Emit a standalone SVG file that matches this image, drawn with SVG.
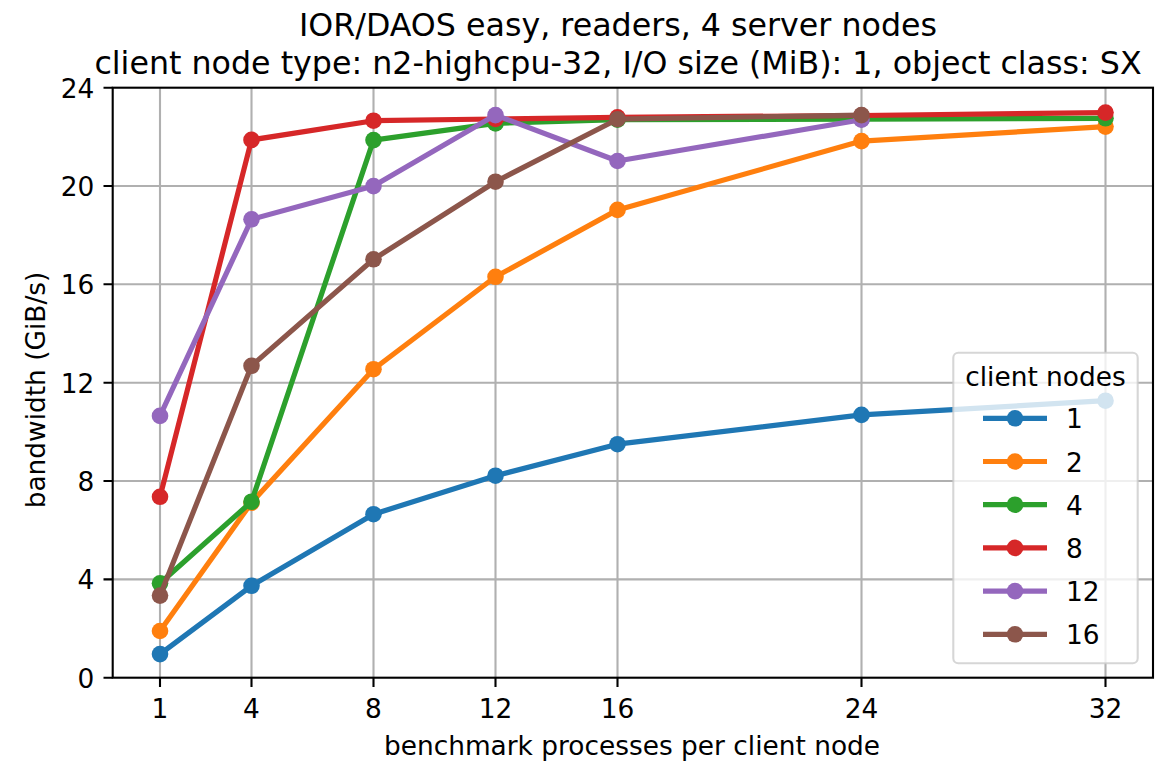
<svg xmlns="http://www.w3.org/2000/svg" width="1170" height="762" viewBox="0 0 1170 762">
<style>
text{font-family:"DejaVu Sans","Liberation Sans",sans-serif;fill:#000}
.t{font-size:31.7px;text-anchor:middle}
.lab{font-size:26.4px}
.xt{font-size:26.4px;text-anchor:middle}
.yt{font-size:26.4px;text-anchor:end}
.grid{stroke:#b0b0b0;stroke-width:2.1;fill:none}
.spine{stroke:#000;stroke-width:2.1;fill:none;stroke-linecap:square}
.tick{stroke:#000;stroke-width:2.1}
.ln{fill:none;stroke-width:5.2;stroke-linejoin:round;stroke-linecap:round}
.c1{stroke:#1f77b4}.c2{stroke:#ff7f0e}.c3{stroke:#2ca02c}
.c4{stroke:#d62728}.c5{stroke:#9467bd}.c6{stroke:#8c564b}
.m1{fill:#1f77b4}.m2{fill:#ff7f0e}.m3{fill:#2ca02c}.m4{fill:#d62728}.m5{fill:#9467bd}.m6{fill:#8c564b}
</style>
<rect width="1170" height="762" fill="#fff"/>
<g id="title">
<text class="t" x="618" y="36">IOR/DAOS easy, readers, 4 server nodes</text>
<text class="t" x="618" y="74">client node type: n2-highcpu-32, I/O size (MiB): 1, object class: SX</text>
</g>
<g id="grid">
<path class="grid" d="M160 87.7V677.7M251.5 87.7V677.7M373.5 87.7V677.7M495.5 87.7V677.7M617.5 87.7V677.7M861.5 87.7V677.7M1105.5 87.7V677.7"/>
<path class="grid" d="M112.7 186H1153M112.7 284.3H1153M112.7 382.7H1153M112.7 481H1153M112.7 579.4H1153"/>
</g>
<g id="series">
<g id="s1">
<polyline class="ln c1" points="160,654.1 251.5,585.8 373.5,514.2 495.5,475.7 617.5,444.2 861.5,414.9 1105.5,400.7"/>
<g class="m1"><circle cx="160" cy="654.1" r="8.3"/><circle cx="251.5" cy="585.8" r="8.3"/><circle cx="373.5" cy="514.2" r="8.3"/><circle cx="495.5" cy="475.7" r="8.3"/><circle cx="617.5" cy="444.2" r="8.3"/><circle cx="861.5" cy="414.9" r="8.3"/><circle cx="1105.5" cy="400.7" r="8.3"/></g>
</g>
<g id="s2">
<polyline class="ln c2" points="160,631 251.5,502.7 373.5,369.2 495.5,276.8 617.5,209.9 861.5,141.1 1105.5,126.6"/>
<g class="m2"><circle cx="160" cy="631" r="8.3"/><circle cx="251.5" cy="502.7" r="8.3"/><circle cx="373.5" cy="369.2" r="8.3"/><circle cx="495.5" cy="276.8" r="8.3"/><circle cx="617.5" cy="209.9" r="8.3"/><circle cx="861.5" cy="141.1" r="8.3"/><circle cx="1105.5" cy="126.6" r="8.3"/></g>
</g>
<g id="s4">
<polyline class="ln c3" points="160,583.3 251.5,501.7 373.5,140.1 495.5,123.4 617.5,119.7 861.5,119.2 1105.5,118.3"/>
<g class="m3"><circle cx="160" cy="583.3" r="8.3"/><circle cx="251.5" cy="501.7" r="8.3"/><circle cx="373.5" cy="140.1" r="8.3"/><circle cx="495.5" cy="123.4" r="8.3"/><circle cx="617.5" cy="119.7" r="8.3"/><circle cx="861.5" cy="119.2" r="8.3"/><circle cx="1105.5" cy="118.3" r="8.3"/></g>
</g>
<g id="s8">
<polyline class="ln c4" points="160,496.8 251.5,139.9 373.5,120.7 495.5,119 617.5,117.3 861.5,115.5 1105.5,112.6"/>
<g class="m4"><circle cx="160" cy="496.8" r="8.3"/><circle cx="251.5" cy="139.9" r="8.3"/><circle cx="373.5" cy="120.7" r="8.3"/><circle cx="495.5" cy="119" r="8.3"/><circle cx="617.5" cy="117.3" r="8.3"/><circle cx="861.5" cy="115.5" r="8.3"/><circle cx="1105.5" cy="112.6" r="8.3"/></g>
</g>
<g id="s12">
<polyline class="ln c5" points="160,415.9 251.5,219.3 373.5,186.1 495.5,115.1 617.5,161 861.5,119.7"/>
<g class="m5"><circle cx="160" cy="415.9" r="8.3"/><circle cx="251.5" cy="219.3" r="8.3"/><circle cx="373.5" cy="186.1" r="8.3"/><circle cx="495.5" cy="115.1" r="8.3"/><circle cx="617.5" cy="161" r="8.3"/><circle cx="861.5" cy="119.7" r="8.3"/></g>
</g>
<g id="s16">
<polyline class="ln c6" points="160,595.6 251.5,365.8 373.5,259.3 495.5,181.7 617.5,119.2 861.5,115.1"/>
<g class="m6"><circle cx="160" cy="595.6" r="8.3"/><circle cx="251.5" cy="365.8" r="8.3"/><circle cx="373.5" cy="259.3" r="8.3"/><circle cx="495.5" cy="181.7" r="8.3"/><circle cx="617.5" cy="119.2" r="8.3"/><circle cx="861.5" cy="115.1" r="8.3"/></g>
</g>
</g>
<g id="axes">
<rect class="spine" x="112.7" y="87.7" width="1040.3" height="590"/>
<path class="tick" d="M160 677.7v9.2M251.5 677.7v9.2M373.5 677.7v9.2M495.5 677.7v9.2M617.5 677.7v9.2M861.5 677.7v9.2M1105.5 677.7v9.2"/>
<path class="tick" d="M112.7 87.7h-9.2M112.7 186h-9.2M112.7 284.3h-9.2M112.7 382.7h-9.2M112.7 481h-9.2M112.7 579.4h-9.2M112.7 677.7h-9.2"/>
<g id="xticks">
<text class="xt" x="160" y="718">1</text>
<text class="xt" x="251.5" y="718">4</text>
<text class="xt" x="373.5" y="718">8</text>
<text class="xt" x="495.5" y="718">12</text>
<text class="xt" x="617.5" y="718">16</text>
<text class="xt" x="861.5" y="718">24</text>
<text class="xt" x="1105.5" y="718">32</text>
</g>
<g id="yticks">
<text class="yt" x="94.3" y="687.7">0</text>
<text class="yt" x="94.3" y="589.4">4</text>
<text class="yt" x="94.3" y="491">8</text>
<text class="yt" x="94.3" y="392.7">12</text>
<text class="yt" x="94.3" y="294.3">16</text>
<text class="yt" x="94.3" y="196">20</text>
<text class="yt" x="94.3" y="97.7">24</text>
</g>
<text class="lab" x="632" y="755" text-anchor="middle">benchmark processes per client node</text>
<text class="lab" transform="translate(45 390) rotate(-90)" text-anchor="middle">bandwidth (GiB/s)</text>
</g>
<g id="legend">
<rect x="953.3" y="352.7" width="184.4" height="310.6" rx="5" fill="#fff" fill-opacity="0.8" stroke="#ccc" stroke-opacity="0.8" stroke-width="2.1"/>
<text class="lab" x="1045.5" y="386" text-anchor="middle">client nodes</text>
<g id="leg1"><path class="ln c1" d="M983 418.3H1047" style="stroke-linecap:butt"/><circle class="m1" cx="1015" cy="418.3" r="8.3"/><text class="lab" x="1066" y="428.3">1</text></g>
<g id="leg2"><path class="ln c2" d="M983 461.5H1047" style="stroke-linecap:butt"/><circle class="m2" cx="1015" cy="461.5" r="8.3"/><text class="lab" x="1066" y="471.5">2</text></g>
<g id="leg4"><path class="ln c3" d="M983 504.7H1047" style="stroke-linecap:butt"/><circle class="m3" cx="1015" cy="504.7" r="8.3"/><text class="lab" x="1066" y="514.7">4</text></g>
<g id="leg8"><path class="ln c4" d="M983 547.9H1047" style="stroke-linecap:butt"/><circle class="m4" cx="1015" cy="547.9" r="8.3"/><text class="lab" x="1066" y="557.9">8</text></g>
<g id="leg12"><path class="ln c5" d="M983 591.1H1047" style="stroke-linecap:butt"/><circle class="m5" cx="1015" cy="591.1" r="8.3"/><text class="lab" x="1066" y="601.1">12</text></g>
<g id="leg16"><path class="ln c6" d="M983 634.3H1047" style="stroke-linecap:butt"/><circle class="m6" cx="1015" cy="634.3" r="8.3"/><text class="lab" x="1066" y="644.3">16</text></g>
</g>
</svg>
